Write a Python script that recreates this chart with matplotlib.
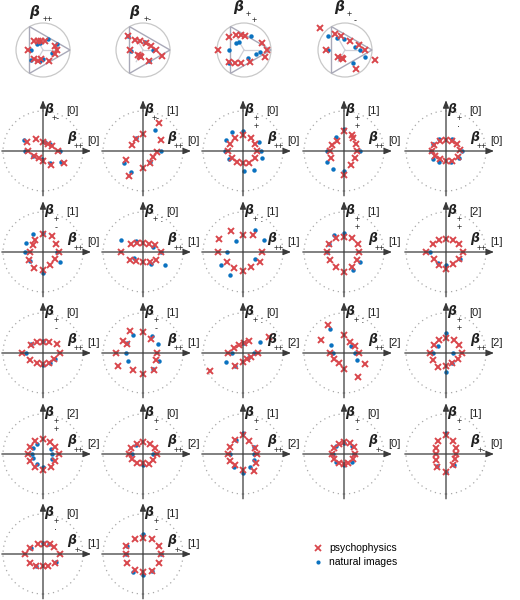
import matplotlib
matplotlib.use("Agg")
import matplotlib.pyplot as plt
import numpy as np
from matplotlib.patches import Circle, Polygon

plt.rcParams["font.family"] = ["Liberation Sans", "DejaVu Sans"]

RED = "#d9474c"
BLUE = "#0a72c0"
AXC = "#3a3a3a"

# ---- top row: simplex panels (x, y in units of the circle radius) ----
tri_psy = [
    [(-0.54, 0), (-0.35, 0.34), (-0.2, 0.34), (-0.075, 0.34), (0.09, 0.34), (0.43, 0.13),
     (0.5, 0), (0.43, -0.13), (0.24, -0.41), (-0.35, -0.35), (-0.2, -0.41), (-0.075, -0.35)],
    [(-0.56, 0.5), (-0.31, 0.38), (-0.1, 0.34), (0.125, 0.25), (0.31, 0.15), (0.475, 0),
     (0.69, -0.22), (-0.5, 0), (-0.19, -0.19), (-0.06, -0.25), (0.23, -0.41), (-0.12, -0.22)],
    [(-0.95, 0), (-0.54, 0.475), (-0.29, 0.56), (-0.1, 0.56), (0.025, 0.525), (0.65, 0.25),
     (0.84, 0), (0.775, -0.25), (0.21, -0.44), (-0.54, -0.44), (-0.35, -0.475), (-0.1, -0.475)],
    [(-0.94, 0.81), (-0.375, 0.59), (-0.16, 0.5), (0.19, 0.34), (0.5, 0.19), (0.75, 0),
     (1.125, -0.375), (0.41, -0.69), (-0.06, -0.35), (-0.25, -0.25), (-0.69, 0), (-0.125, -0.31)],
]
tri_nat = [
    [(-0.45, 0), (-0.22, 0.21), (-0.1, 0.25), (0.19, 0.4), (0.52, 0.21), (0.34, -0.1),
     (0, -0.35), (-0.45, -0.38), (-0.1, -0.41)],
    [(-0.56, 0.52), (0.375, 0), (-0.44, -0.02), (-0.125, -0.22), (0.22, -0.4), (0.06, 0.3)],
    [(-0.56, 0), (-0.29, 0.25), (-0.19, 0.31), (0.275, 0.525), (0.44, -0.15), (0.59, -0.06),
     (-0.54, -0.475), (0.15, -0.31)],
    [(-0.625, 0.525), (-0.29, 0.46), (-0.04, 0.4), (0.375, 0.125), (0.56, 0), (0.75, -0.25),
     (0.29, -0.475), (-0.625, 0), (-0.19, -0.31)],
]
tri_labels = ["++", "+-", "dp", "dm"]

# ---- grid panels (x, y in units of the dotted circle radius) ----
grid_psy = [
    [(-0.40, 0.23), (-0.38, 0), (-0.18, 0.29), (0, 0.23), (0.12, 0.18), (0.22, 0.12), (0.37, 0),
     (-0.23, -0.12), (-0.11, -0.17), (0, -0.24), (0.2, -0.35), (0.52, -0.31)],
    [(0.4, 0.69), (0.46, 0.28), (0, 0.43), (-0.18, 0.29), (-0.28, 0.15), (-0.42, -0.23),
     (-0.36, -0.63), (0, -0.42), (0.17, -0.29), (0.25, -0.14), (0.35, -0.02)],
    [(0, 0.4), (-0.19, 0.32), (-0.32, 0.17), (-0.38, 0), (-0.27, -0.17), (-0.15, -0.27),
     (0, -0.31), (0.16, -0.29), (0.31, -0.17), (0.35, 0), (0.31, 0.17), (0.2, 0.32)],
    [(0, 0.5), (0.19, 0.4), (-0.17, 0.26), (-0.29, 0.15), (-0.35, 0), (-0.32, -0.18),
     (0, -0.6), (0.18, -0.35), (0.28, -0.17), (0.33, 0), (0.29, 0.17), (0.23, 0.32)],
    [(-0.29, 0.15), (-0.15, 0.25), (0, 0.27), (0.16, 0.26), (0.27, 0.18), (0.35, 0.03),
     (0.31, -0.14), (0.16, -0.25), (0, -0.25), (-0.15, -0.2), (-0.27, -0.12), (-0.34, 0)],
    [(0, 0.44), (0.23, 0.39), (0.33, 0.19), (0.39, 0), (0.29, -0.17), (0.17, -0.32),
     (0, -0.44), (-0.23, -0.4), (-0.34, -0.21), (-0.32, 0), (-0.26, 0.17), (-0.19, 0.29)],
    [(-0.54, 0), (-0.31, 0.19), (-0.14, 0.23), (0, 0.23), (0.14, 0.21), (0.29, 0.17),
     (0.44, 0), (0.33, -0.21), (0.17, -0.25), (0, -0.25), (-0.17, -0.22), (-0.33, -0.19)],
    [(-0.61, 0.32), (-0.3, 0.53), (0, 0.42), (0.24, 0.42), (0.48, 0), (0.42, -0.25),
     (0.2, -0.37), (0, -0.48), (-0.22, -0.4), (-0.4, -0.25), (-0.62, 0)],
    [(0, 0.38), (0.21, 0.35), (0.36, 0.19), (0.38, 0), (0.33, -0.21), (0.21, -0.38),
     (0, -0.5), (-0.21, -0.38), (-0.35, -0.21), (-0.43, 0), (-0.38, 0.21), (-0.21, 0.35)],
    [(0, 0.32), (0.18, 0.29), (0.33, 0.19), (0.42, 0), (0.33, -0.17), (0.18, -0.29),
     (0, -0.43), (-0.17, -0.32), (-0.29, -0.17), (-0.5, 0), (-0.33, 0.19), (-0.17, 0.29)],
    [(-0.52, 0), (-0.31, 0.21), (-0.14, 0.27), (0, 0.27), (0.15, 0.27), (0.35, 0.23),
     (0.42, 0), (0.28, -0.15), (0.14, -0.25), (0, -0.27), (-0.14, -0.25), (-0.33, -0.17)],
    [(-0.33, 0.56), (0, 0.53), (0.21, 0.35), (0.35, 0), (0.32, -0.17), (0.27, -0.43),
     (0, -0.52), (-0.25, -0.42), (-0.63, -0.33), (-0.67, 0), (-0.5, 0.29), (-0.39, 0.23)],
    [(-0.82, -0.44), (-0.38, 0), (-0.22, 0.13), (-0.09, 0.21), (0.02, 0.25), (0.16, 0.31),
     (0.66, 0.39), (0.2, -0.11), (0.1, -0.15), (0, -0.23), (-0.21, -0.33), (0.38, 0)],
    [(-0.39, 0.69), (-0.57, 0.33), (0, 0.44), (0.15, 0.28), (0.28, 0.17), (0.38, 0),
     (0.52, -0.27), (0.35, -0.6), (0, -0.4), (-0.13, -0.25), (-0.25, -0.15), (-0.35, 0)],
    [(0, 0.38), (0.2, 0.33), (0.33, 0.19), (0.39, 0), (0.31, -0.15), (0.14, -0.25),
     (0, -0.32), (-0.21, -0.36), (-0.32, -0.17), (-0.4, 0), (-0.29, 0.19), (-0.17, 0.33)],
    [(0, 0.37), (0.18, 0.31), (0.3, 0.18), (0.4, 0), (0.31, -0.18), (0.19, -0.33),
     (0, -0.4), (-0.2, -0.33), (-0.33, -0.18), (-0.37, 0), (-0.33, 0.18), (-0.21, 0.32)],
    [(0, 0.29), (0.17, 0.24), (0.31, 0.14), (0.35, 0), (0.25, -0.15), (0.14, -0.25),
     (0, -0.23), (-0.15, -0.23), (-0.27, -0.13), (-0.35, 0), (-0.29, 0.14), (-0.15, 0.25)],
    [(0, 0.48), (-0.19, 0.35), (-0.32, 0.17), (-0.38, 0), (-0.33, -0.17), (-0.19, -0.28),
     (0, -0.4), (0.27, -0.43), (0.33, -0.23), (0.35, 0), (0.31, 0.16), (0.16, 0.33)],
    [(0, 0.29), (0.14, 0.27), (0.25, 0.17), (0.28, 0), (0.23, -0.13), (0.11, -0.23),
     (0, -0.26), (-0.13, -0.23), (-0.25, -0.13), (-0.29, 0), (-0.25, 0.14), (-0.13, 0.25)],
    [(0, 0.48), (0.17, 0.33), (0.25, 0.14), (0.25, 0), (0.23, -0.13), (0.18, -0.28),
     (0, -0.46), (-0.22, -0.32), (-0.25, -0.15), (-0.26, 0), (-0.25, 0.14), (-0.19, 0.32)],
    [(-0.44, 0), (-0.33, -0.22), (-0.18, -0.29), (0, -0.29), (0.13, -0.29), (0.31, -0.22),
     (0.43, 0), (0.27, 0.18), (0.17, 0.24), (0.02, 0.25), (-0.13, 0.25), (-0.32, 0.14)],
    [(0, 0.41), (0.23, 0.37), (0.4, 0.21), (0.46, 0), (0.4, -0.22), (0.23, -0.42),
     (0, -0.46), (-0.21, -0.4), (-0.39, -0.22), (-0.43, 0), (-0.42, 0.2), (-0.21, 0.37)],
]
grid_nat = [
    [(-0.47, 0.28), (-0.44, 0), (-0.25, -0.12), (-0.03, -0.21), (0.17, -0.29), (0.45, -0.27),
     (0.42, 0), (0.06, 0.22), (0.17, 0.18)],
    [(0.29, 0.53), (0.44, 0), (-0.17, 0.32), (-0.48, -0.31), (-0.29, -0.52), (0.18, -0.27)],
    [(-0.28, 0.48), (0, 0.5), (-0.42, 0.28), (-0.44, 0), (-0.36, -0.2), (0.02, -0.5),
     (0.28, -0.48), (0.48, -0.18), (0.45, 0), (0.39, 0.23)],
    [(-0.21, 0.36), (0, 0.54), (-0.43, 0), (-0.42, -0.27), (-0.27, -0.45), (0, -0.5), (0.4, 0)],
    [(-0.32, 0.17), (-0.17, 0.3), (0.14, 0.3), (0.39, 0), (0.33, -0.18), (0.12, -0.27),
     (-0.17, -0.27), (-0.33, -0.2), (-0.38, 0)],
    [(-0.26, 0.44), (0, 0.48), (-0.42, 0.23), (-0.44, 0), (-0.33, -0.22), (0, -0.52),
     (0.42, -0.25), (0.35, 0)],
    [(-0.56, 0.31), (-0.17, 0.28), (0.25, 0.13), (0.44, 0), (0.56, -0.33), (0.21, -0.31),
     (-0.23, -0.14)],
    [(-0.18, 0.28), (0.31, 0.54), (0.53, 0.29), (-0.4, 0), (0.31, -0.18), (-0.54, -0.32),
     (-0.33, -0.58)],
    [(0, 0.48), (-0.25, 0.43), (-0.38, 0.21), (-0.43, 0), (0.4, -0.25), (0.23, -0.44)],
    [(-0.4, 0), (-0.19, -0.27), (0, -0.33), (0.35, -0.17)],
    [(-0.42, 0), (-0.3, 0.23), (0, 0.31), (0.29, -0.15), (0, -0.29), (0.17, -0.25)],
    [(-0.25, 0.44), (0.23, 0.43), (0.38, 0.23), (0.4, -0.21), (0.25, -0.4), (-0.38, -0.19),
     (-0.42, 0), (-0.39, 0.25)],
    [(-0.42, -0.23), (-0.28, 0), (0.42, 0.27), (0.27, 0), (0.13, -0.13), (-0.19, -0.32),
     (0.03, 0.25)],
    [(-0.35, 0.6), (-0.33, 0.21), (-0.27, 0), (0.17, 0.17), (0.28, 0), (0.32, -0.17)],
    [(0, 0.5), (-0.32, 0), (0.18, 0), (0.14, -0.25), (0, -0.48), (-0.21, 0.17)],
    [(-0.14, 0.24), (0.19, 0.13), (0.23, 0), (0.22, -0.13), (0, -0.32), (-0.16, -0.25),
     (-0.25, -0.11), (-0.27, 0), (-0.25, 0.14)],
    [(-0.27, 0), (0.25, 0), (0, -0.28), (-0.17, 0.23)],
    [(0, 0.52), (-0.17, 0.35), (0.27, 0.18), (0.27, 0), (0.27, -0.15), (0.17, -0.32),
     (0, -0.48), (-0.22, -0.33), (-0.33, 0)],
    [(0, 0.28), (0.25, 0), (0, -0.27), (-0.28, 0), (0.2, 0.2), (-0.2, 0.2), (0.19, -0.19),
     (-0.19, -0.19)],
    [(0, 0.52), (-0.22, -0.3), (0, -0.44), (0.2, -0.28)],
    [(-0.3, 0.14), (-0.18, -0.29), (0, 0.27), (0.14, 0.25), (0.32, -0.2)],
    [(0, 0.49), (0.22, -0.43), (0, -0.53), (-0.43, 0), (-0.25, -0.44), (0.44, 0), (-0.4, 0.2)],
]
# subscript codes: "++"/"+-" on one line, "vp"/"vm"/"vd" stacked, "c" plus with colon
vert_sub = ["+-", "+-", "vp", "vp", "vd", "vm", "c", "c", "vp", "vp", "vm",
            "vm", "c", "c", "vp", "vp", "vm", "vm", "vm", "vm", "vd", "vm"]
vert_idx = [0, 1, 0, 1, 0, 1, 0, 1, 1, 2, 0, 1, 0, 1, 0, 2, 0, 1, 0, 1, 0, 1]
horiz_sub = ["++"] * 18 + ["+-"] * 4
horiz_idx = [0, 0, 0, 0, 0, 0, 1, 1, 1, 1, 1, 1, 2, 2, 2, 2, 2, 2, 0, 0, 1, 1]

FW, FH = 520, 600
fig = plt.figure(figsize=(FW / 100, FH / 100), dpi=100)
INK = "#222222"
STACKED = {"vp": "+\n+", "vm": "+\n-", "vd": "+\n·"}


def panel_axes(cx, cy, half):
    ax = fig.add_axes([(cx - half) / FW, (FH - cy - half) / FH, 2 * half / FW, 2 * half / FH])
    ax.set_axis_off()
    return ax


def beta_text(ax, x, y, fs=9):
    ax.text(x, y, "β", fontsize=fs, fontstyle="italic", fontweight="bold",
            family="DejaVu Sans", ha="left", va="center", color=INK)


def sub_text(ax, x, y, code):
    kw = dict(fontsize=6.5, ha="center", color=INK)
    if code in STACKED:
        # two signs stacked, top one centred on y
        ax.text(x, y + 0.1, STACKED[code], va="top", linespacing=0.85, **kw)
    elif code == "c":
        ax.text(x, y, "+ :", va="center", **kw)
    else:
        ax.text(x, y, code, va="center", **kw)


def scatter(ax, psy, nat):
    nat = np.array(nat)
    psy = np.array(psy)
    ax.plot(nat[:, 0], nat[:, 1], "o", ms=3.2, color=BLUE, mec="none", clip_on=False)
    ax.plot(psy[:, 0], psy[:, 1], "x", ms=4.8, mew=1.4, color=RED, clip_on=False)


# ---- top row ----
tri_cx = [43, 143, 244, 345]
R0 = 27
for i, cx in enumerate(tri_cx):
    ax = panel_axes(cx, 50, 1.8 * R0)
    ax.set_xlim(-1.8, 1.8)
    ax.set_ylim(-1.8, 1.8)
    ax.add_patch(Circle((0, 0), 1, fill=False, ec="#c8c8c8", lw=0.9))
    ang = np.deg2rad([0, 120, 240])
    vx, vy = np.cos(ang), np.sin(ang)
    ax.add_patch(Polygon(np.column_stack([vx, vy]), closed=True, fill=False, ec="#a9a9b8", lw=1.0))
    for a, b in zip(vx, vy):
        ax.plot([0, a * 0.5], [0, b * 0.5], color="#cfcfd6", lw=0.9)
    scatter(ax, tri_psy[i], tri_nat[i])
    code = tri_labels[i]
    skw = dict(fontsize=6.5, ha="center", va="center", color=INK)
    if code in ("++", "+-"):
        beta_text(ax, -0.5, 1.4, fs=10)
        ax.text(0.17, 1.13, code, **skw)
    else:
        beta_text(ax, -0.4, 1.6, fs=10)
        ax.text(0.14, 1.3, "+", **skw)
        ax.text(0.36, 1.08, "+" if code == "dp" else "-", **skw)

# ---- grid ----
col_x = [43, 143, 243, 344, 446]
row_y = [151, 252, 353, 454, 554]
R = 40
arrow = dict(arrowstyle="-|>,head_length=0.45,head_width=0.18", color=AXC, lw=0.9,
             shrinkA=0, shrinkB=0)
for k in range(len(grid_psy)):
    cx, cy = col_x[k % 5], row_y[k // 5]
    ax = panel_axes(cx, cy, 1.3 * R)
    ax.set_xlim(-1.3, 1.3)
    ax.set_ylim(-1.3, 1.3)
    ax.add_patch(Circle((0, 0), 1, fill=False, ec="#a8a8a8", lw=0.9, ls=(0, (1, 3))))
    ax.annotate("", xy=(1.2, 0), xytext=(-1.03, 0), arrowprops=arrow, annotation_clip=False)
    ax.annotate("", xy=(0, 1.27), xytext=(0, -1.12), arrowprops=arrow, annotation_clip=False)
    scatter(ax, grid_psy[k], grid_nat[k])
    # vertical axis label
    beta_text(ax, 0.03, 1.03)
    sub_text(ax, 0.32 if vert_sub[k] != "c" else 0.38, 0.82, vert_sub[k])
    ax.text(0.58, 1.0, "[%d]" % vert_idx[k], fontsize=8, ha="left", va="center", color=INK)
    # horizontal axis label
    beta_text(ax, 0.6, 0.33)
    sub_text(ax, 0.9, 0.1, horiz_sub[k])
    ax.text(1.1, 0.26, "[%d]" % horiz_idx[k], fontsize=8, ha="left", va="center", color=INK)

# ---- legend ----
lax = panel_axes(400, 555, 80)
lax.set_xlim(-80, 80)
lax.set_ylim(80, -80)
lax.plot([-82], [-7], "x", ms=4.5, mew=1.3, color=RED, clip_on=False)
lax.plot([-82], [7], "o", ms=3, color=BLUE, mec="none", clip_on=False)
lax.text(-71, -7, "psychophysics", fontsize=7.5, va="center", ha="left")
lax.text(-71, 7, "natural images", fontsize=7.5, va="center", ha="left")

fig.savefig("out.png", dpi=100)
